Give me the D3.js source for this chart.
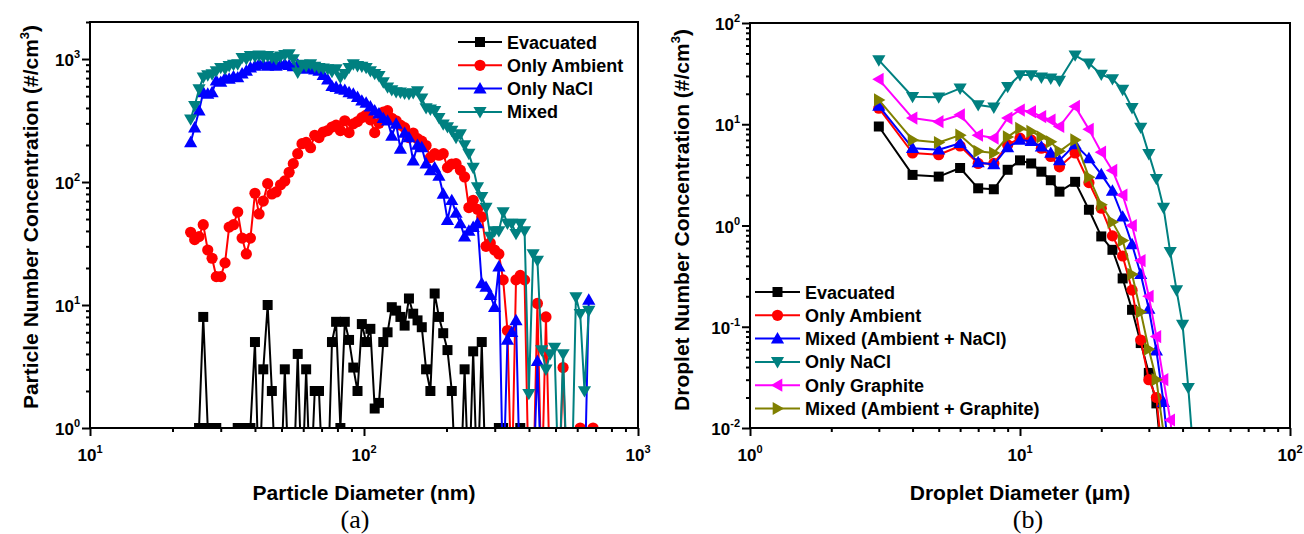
<!DOCTYPE html>
<html><head><meta charset="utf-8">
<script src="https://cdn.jsdelivr.net/npm/d3@7"></script>
<style>
body{margin:0;background:#fff;}
svg{display:block;}
text{font-family:"Liberation Sans",Arial,sans-serif;font-weight:bold;fill:#000;}
</style></head><body>
<svg id="c" width="1304" height="534"></svg>
<script>
// ---------- Panel (a) data ----------
const diamA = [23.3,24.1,25.0,25.9,26.9,27.9,28.9,30.0,31.1,32.2,
 33.4,34.6,35.9,37.2,38.5,40.0,41.4,42.9,44.5,46.1,
 47.8,49.6,51.4,53.3,55.2,57.3,59.4,61.5,63.8,66.1,
 68.5,71.0,73.7,76.4,79.1,82.0,85.1,88.2,91.4,94.7,
 98.2,101.8,105.5,109.4,113.4,117.6,121.9,126.3,131.0,135.8,
 140.7,145.9,151.2,156.8,162.5,168.5,174.7,181.1,187.7,194.6,
 201.7,209.1,216.7,224.7,232.9,241.4,250.3,259.5,269.0,278.8,
 289.0,299.6,310.6,322.0,333.8,346.0,358.7,371.8,385.5,399.6,
 414.2,429.4,445.1,461.4,478.3,495.8,514.0,532.8,552.3,572.5,
 593.5,615.3,637.8,661.2,685.4];
const evacA = [null,null,1,8,1,0.3,1,0.3,0.3,0.3,
 0.3,1,1,1,1,5,0.3,3,10,2,
 0.3,0.3,3,0.3,0.3,4,0.3,3,0.3,2,
 2,0.3,0.3,5,7.3,1,7.3,5.2,3.1,2,
 7,5,6.4,1.44,1.6,5,6,9.6,9,8,
 6.8,11.3,8.5,7.5,6.6,3,2,12.4,8,5.9,
 4.3,2,0.3,0.3,3,0.3,4.2,0.3,5,0.3,
 0.3,0.3,1,1,0.3,0.3,0.3,1,null,null,
 null,null,null,null,null,null,null,null,null,null,
 null,null,null,null,null];
const ambientA = [39,34,36,45,28,24,17,17,22,43,
 45,57,35,26,35,81,55,70,97,80,
 83,95,102,120,141,170,205,210,190,240,
 230,255,262,280,290,262,315,252,297,310,
 334,350,320,252,300,370,380,330,315,290,
 277,230,250,225,215,198,158,170,165,170,
 131,140,141,125,110,62,71,60,52,30,
 32,28,26,16,6.2,0.3,16,17.4,16,0.3,
 0.3,10.3,0.3,8,0.3,0.3,0.3,3.1,0.3,0.3,
 0.3,1,0.3,0.3,1];
const naclA = [210,277,380,536,520,536,665,650,700,690,
 720,707,760,800,850,880,910,900,880,920,
 880,900,910,890,870,900,860,830,850,820,
 800,740,680,600,590,570,560,536,520,490,
 458,440,410,380,360,330,315,237,297,186,
 250,230,149,200,191,141,124,131,112,80,
 49,71,56,46,36,40,43,46,15,14,
 12,9.6,20.5,0.3,5.2,6,7.5,0.3,0.3,0.3,
 0.3,3.5,0.3,0.3,0.3,0.3,0.3,0.3,0.3,0.3,
 0.3,0.3,0.3,11,null];
const mixedA = [324,417,569,710,740,755,800,850,830,880,
 900,910,1025,1000,1060,1050,1070,1040,1060,1030,
 1000,1050,1080,1100,1000,780,900,880,910,870,
 850,840,830,790,830,710,760,850,910,880,
 870,850,800,760,730,650,590,560,540,536,
 525,520,530,550,480,400,390,380,333,295,
 280,262,230,245,200,170,131,91,76,62,
 36,40,40,57,46,46,38,46,40,1.9,
 26,23,4.3,3,4,4.5,0.3,4,0.3,0.3,
 11.6,8.5,2,9,null];
const tickExpXA = ["1","2","3"];
const tickExpYA = ["0","1","2","3"];
const legendA = ["Evacuated","Only Ambient","Only NaCl","Mixed"];

// ---------- Panel (b) data ----------
const diamB = [3,4,5,6,7,8,9,10,11,12,13,14,16,18,20,22,24,26,28,30,32,34,36,38,40,42,44,46,48,50];
const evacB = [9.5,3.16,3.04,3.7,2.33,2.28,3.55,4.4,4.1,3.4,2.8,2.16,2.7,1.43,0.78,0.575,0.30,0.147,0.069,0.035,0.0175,0.003,null,null,null,null,null,null,null,null];
const ambientB = [14.4,5.2,5.0,6.1,4.1,4.1,6.25,7.3,7.0,5.8,4.8,3.8,5.2,2.65,1.48,0.79,0.5,0.23,0.074,0.03,0.02,0.004,null,null,null,null,null,null,null,null];
const mixNaclB = [15.2,5.8,5.6,6.5,4.2,4.0,5.9,7.0,6.8,6.0,5.2,4.4,6.3,4.6,3.2,2.2,1.22,0.65,0.33,0.15,0.058,0.018,0.004,null,null,null,null,null,null,null];
const naclB = [43,18.7,18.5,22.6,15.5,14.7,23.5,30.7,30.7,29.1,28.4,27,48,40,31,28,22,14.5,9.3,5.1,2.9,1.5,0.55,0.23,0.105,0.025,0.005,null,null,null];
const graphiteB = [27.8,11.5,10.6,12.4,7.8,7.3,11.5,13.8,13.3,11.9,11,9.5,15,8.9,5.3,3.5,2.0,1.0,0.45,0.2,0.08,0.03,0.012,0.004,null,null,null,null,null,null];
const mixGraphB = [17.4,7.0,6.6,7.8,5.4,5.2,7.5,9.1,8.5,7.5,6.7,5.4,7.0,3.0,1.6,1.08,0.71,0.33,0.14,0.06,0.03,0.009,null,null,null,null,null,null,null,null];
const tickExpXB = ["0","1","2"];
const tickExpYB = ["-2","-1","0","1","2"];
const legendB = ["Evacuated","Only Ambient","Mixed (Ambient + NaCl)","Only NaCl","Only Graphite","Mixed (Ambient + Graphite)"];

// ---------- drawing ----------
const svg = d3.select("#c");
const shapes = {
  square: "M-5,-5h10v10h-10Z",
  circle: "M-5.6,0a5.6,5.6 0 1,0 11.2,0a5.6,5.6 0 1,0 -11.2,0Z",
  up: "M0,-6.6L6.6,4.8L-6.6,4.8Z",
  down: "M0,6.6L6.6,-4.8L-6.6,-4.8Z",
  left: "M-6.6,0L4.8,-6.6L4.8,6.6Z",
  right: "M6.6,0L-4.8,-6.6L-4.8,6.6Z"
};
function minors(d){
  const r=[];
  for(let k=Math.floor(Math.log10(d[0]));k<=Math.ceil(Math.log10(d[1]));k++){
    for(let m=2;m<=9;m++){const v=+(m*Math.pow(10,k)).toPrecision(6); if(v>d[0]*1.0001&&v<=d[1]*1.0001) r.push(v);}
  }
  return r;
}
function tickLabel(g,xp,yp,exp,anchor){
  const t=g.append("text").attr("x",xp).attr("y",yp).attr("text-anchor",anchor).style("font-size","17px");
  t.append("tspan").text("10");
  t.append("tspan").attr("dy",-8).style("font-size","11px").text(exp);
}
function panel(o){
  const x=d3.scaleLog().domain(o.xd).range([o.x0,o.x1]);
  const y=d3.scaleLog().domain(o.yd).range([o.y1,o.y0]);
  const id="clip"+o.key;
  svg.append("clipPath").attr("id",id).append("rect")
    .attr("x",o.x0).attr("y",o.y0).attr("width",o.x1-o.x0).attr("height",o.y1-o.y0);
  const xMaj=o.xExp.map(e=>Math.pow(10,+e)), yMaj=o.yExp.map(e=>Math.pow(10,+e));
  const mk=(axis,tr)=>{const g=svg.append("g").attr("transform",tr).call(axis);g.select(".domain").remove();g.selectAll("line").attr("stroke","#000").attr("stroke-width",2);return g;};
  mk(d3.axisBottom(x).tickValues(xMaj).tickSize(8).tickFormat(""),`translate(0,${o.y1})`);
  mk(d3.axisBottom(x).tickValues(minors(o.xd)).tickSize(4).tickFormat(""),`translate(0,${o.y1})`);
  mk(d3.axisLeft(y).tickValues(yMaj).tickSize(8).tickFormat(""),`translate(${o.x0},0)`);
  mk(d3.axisLeft(y).tickValues(minors(o.yd)).tickSize(4).tickFormat(""),`translate(${o.x0},0)`);
  const lg=svg.append("g");
  xMaj.forEach((v,i)=>tickLabel(lg,x(v),o.y1+33,o.xExp[i],"middle"));
  yMaj.forEach((v,i)=>tickLabel(lg,o.x0-10,y(v)+7,o.yExp[i],"end"));
  const plot=svg.append("g").attr("clip-path",`url(#${id})`);
  o.series.forEach(s=>{
    const pts=o.xs.map((d,i)=>({x:d,v:s.values[i]}));
    const line=d3.line().defined(p=>p.v!=null).x(p=>x(p.x)).y(p=>y(p.v));
    plot.append("path").attr("d",line(pts)).attr("fill","none").attr("stroke",s.color)
      .attr("stroke-width",2).attr("stroke-linejoin","round");
    plot.selectAll(null).data(pts.filter(p=>p.v!=null)).enter().append("path")
      .attr("d",shapes[s.marker]).attr("fill",s.color)
      .attr("transform",p=>`translate(${x(p.x)},${y(p.v)})`);
  });
  svg.append("rect").attr("x",o.x0).attr("y",o.y0).attr("width",o.x1-o.x0).attr("height",o.y1-o.y0)
    .attr("fill","none").attr("stroke","#000").attr("stroke-width",2);
  o.series.forEach((s,i)=>{
    const ly=o.leg.y+o.leg.dy*i;
    svg.append("line").attr("x1",o.leg.x0).attr("x2",o.leg.x1).attr("y1",ly).attr("y2",ly)
      .attr("stroke",s.color).attr("stroke-width",2);
    svg.append("path").attr("d",shapes[s.marker]).attr("fill",s.color)
      .attr("transform",`translate(${(o.leg.x0+o.leg.x1)/2},${ly})`);
    svg.append("text").attr("x",o.leg.x1+5).attr("y",ly+6.5).style("font-size","18px").text(s.name);
  });
  svg.append("text").attr("x",(o.x0+o.x1)/2).attr("y",500).attr("text-anchor","middle")
    .style("font-size","21px").text(o.xTitle);
  const yt=svg.append("text").attr("transform",`translate(${o.yTitleX},${o.yTitleY}) rotate(-90)`)
    .attr("text-anchor","middle").style("font-size","21px");
  yt.append("tspan").text(o.yTitle);
  yt.append("tspan").attr("dy",-9).style("font-size","13px").text("3");
  yt.append("tspan").attr("dy",9).text(")");
  svg.append("text").attr("x",o.capX).attr("y",528).attr("text-anchor","middle")
    .style("font-family","'Liberation Serif','Times New Roman',serif").style("font-weight","normal")
    .style("font-size","26px").text(o.cap);
}

panel({key:"a",x0:90,x1:638,y0:22,y1:428,xd:[10,1000],yd:[1,2000],
  xExp:tickExpXA,yExp:tickExpYA,xs:diamA,
  series:[
    {name:legendA[0],values:evacA,color:"#000000",marker:"square"},
    {name:legendA[1],values:ambientA,color:"#ff0000",marker:"circle"},
    {name:legendA[2],values:naclA,color:"#0000ff",marker:"up"},
    {name:legendA[3],values:mixedA,color:"#008080",marker:"down"}],
  leg:{x0:458,x1:502,y:42,dy:23.3},
  xTitle:"Particle Diameter (nm)",yTitle:"Particle Number Concentration (#/cm",yTitleX:38,yTitleY:217,
  cap:"(a)",capX:355});

panel({key:"b",x0:750,x1:1290,y0:23,y1:428,xd:[1,100],yd:[0.01,100],
  xExp:tickExpXB,yExp:tickExpYB,xs:diamB,
  series:[
    {name:legendB[0],values:evacB,color:"#000000",marker:"square"},
    {name:legendB[1],values:ambientB,color:"#ff0000",marker:"circle"},
    {name:legendB[2],values:mixNaclB,color:"#0000ff",marker:"up"},
    {name:legendB[3],values:naclB,color:"#008080",marker:"down"},
    {name:legendB[4],values:graphiteB,color:"#ff00ff",marker:"left"},
    {name:legendB[5],values:mixGraphB,color:"#808000",marker:"right"}],
  leg:{x0:755,x1:800,y:292,dy:23.3},
  xTitle:"Droplet Diameter (μm)",yTitle:"Droplet Number Concentration (#/cm",yTitleX:689,yTitleY:220,
  cap:"(b)",capX:1028});
</script>
</body></html>
